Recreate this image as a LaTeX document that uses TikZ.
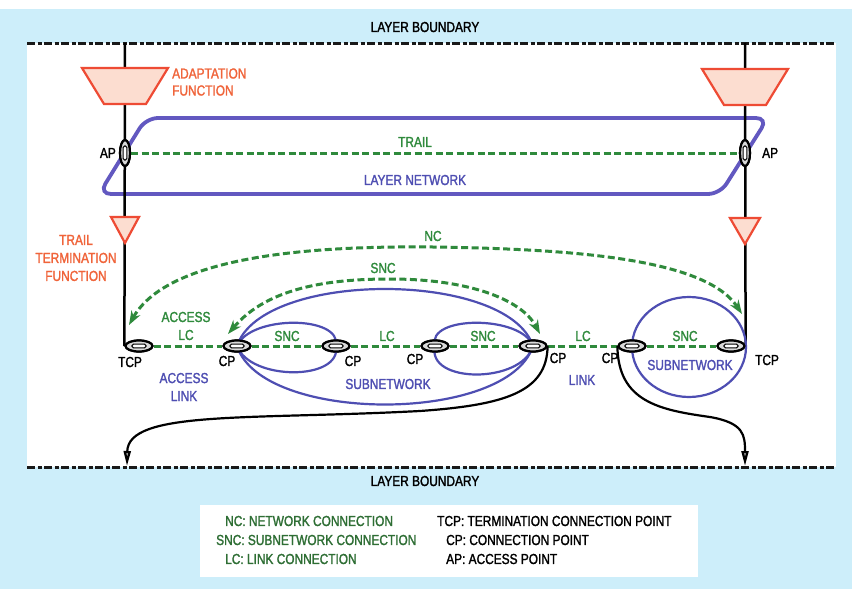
\documentclass[tikz,border=0pt]{standalone}
\usepackage{fontspec}
\setmainfont[FakeStretch=0.82, FakeBold=1.6]{Liberation Sans}
\usetikzlibrary{arrows.meta,shapes.geometric,calc}
\definecolor{bgblue}{HTML}{CDEEFA}
\definecolor{lgreen}{HTML}{2F8A3C}
\definecolor{lorange}{HTML}{F0643A}
\definecolor{tfill}{HTML}{FCDDD0}
\definecolor{fstroke}{HTML}{EE4B34}
\definecolor{lblue}{HTML}{4E4EB2}
\definecolor{netblue}{HTML}{6258C0}
\definecolor{legreen}{HTML}{2E6E34}
\begin{document}
\begin{tikzpicture}[x=1pt,y=-1pt,
  every node/.style={font=\fontsize{14.5}{17}\selectfont, inner sep=0pt},
  boundary/.style={line width=3pt, color=black!90, dash pattern=on 8pt off 2.5pt on 4pt off 2.5pt},
  gdash/.style={line width=3pt, color=lgreen, dash pattern=on 7pt off 3.5pt},
  garrow/.style={gdash, {Stealth[length=14pt,width=10pt]}-{Stealth[length=14pt,width=10pt]}},
  vline/.style={line width=2.5pt, black},
  func/.style={draw=fstroke, fill=tfill, line width=2.2pt, line join=miter},
  subnet/.style={draw=lblue, line width=2.2pt},
  layernet/.style={draw=netblue, line width=3.8pt, rounded corners=12pt},
  blackarr/.style={line width=2.2pt, black, -{Triangle[length=15pt,width=7pt,fill=gray!60]}},
  cpt/.style={ellipse, draw=black, line width=2.2pt, fill=black!15, minimum width=27pt, minimum height=11pt, inner sep=0pt,
    path picture={\draw[line width=1.1pt, fill=white, rounded corners=1.5pt]
      ($(path picture bounding box.center)+(-7pt,-1.9pt)$) rectangle ($(path picture bounding box.center)+(7pt,1.9pt)$);}},
  apt/.style={ellipse, draw=black, line width=2.2pt, fill=black!15, minimum width=10pt, minimum height=26pt, inner sep=0pt,
    path picture={\draw[line width=1.1pt, fill=white, rounded corners=1.5pt]
      ($(path picture bounding box.center)+(-1.9pt,-7pt)$) rectangle ($(path picture bounding box.center)+(1.9pt,7pt)$);}},
  orangetxt/.style={text=lorange, align=center},
  greentxt/.style={text=lgreen},
  bluetxt/.style={text=lblue, align=center},
  blacktxt/.style={text=black},
]
\useasboundingbox (0,0) rectangle (852,589);
% backgrounds
\fill[white] (0,0) rectangle (852,589);
\fill[bgblue] (0,9) rectangle (852,589);
\fill[white] (27,43) rectangle (836,467);
% boundaries
\coordinate (bTL) at (27,43);
\coordinate (bTR) at (836,43);
\coordinate (bBL) at (27,467);
\coordinate (bBR) at (836,467);
\draw[boundary] (bTL) -- (bTR);
\draw[boundary] (bBL) -- (bBR);
\node[blacktxt] (lbtop) at (425,27) {LAYER BOUNDARY};
\node[blacktxt] (lbbot) at (425,481) {LAYER BOUNDARY};
% layer network
\draw[layernet] (146,118) -- (768,118) -- (720,194) -- (99,194) -- cycle;
% CP / TCP nodes positions
\node[cpt] (tcpL) at (139,346) {};
\node[cpt] (cp1) at (237,346) {};
\node[cpt] (cp2) at (336,346) {};
\node[cpt] (cp3) at (435,346) {};
\node[cpt] (cp4) at (533,346) {};
\node[cpt] (cp5) at (632,346) {};
\node[cpt] (tcpR) at (731,346) {};
% vertical lines
\coordinate (tL) at (125,43);
\coordinate (tR) at (745,43);
\draw[vline] (tL) -- (tcpL.west);
\draw[vline] (tR) -- (tcpR.east);
% adaptation functions
\draw[func] (82,68) -- (168,68) -- (146,104) -- (104,104) -- cycle;
\draw[func] (702,69) -- (788,69) -- (766,105) -- (724,105) -- cycle;
% trail termination functions
\draw[func] (111,217) -- (139,217) -- (125,243) -- cycle;
\draw[func] (730,218) -- (760,218) -- (745,244) -- cycle;
% trail
\node[apt] (apL) at (125,153) {};
\node[apt] (apR) at (745,153) {};
\draw[gdash] (apL) -- (apR);
\node[apt] at (125,153) {};
\node[apt] at (745,153) {};
% subnetworks
\draw[subnet] (cp1.center) .. controls (262,270) and (508,270) .. (cp4.center)
  .. controls (508,424) and (262,424) .. (cp1.center);
\draw[subnet] (cp1.center) .. controls (250,315) and (342,315) .. (cp2.center)
  .. controls (342,381) and (250,381) .. (cp1.center);
\draw[subnet] (cp3.center) .. controls (426,315) and (522,315) .. (cp4.center)
  .. controls (522,384) and (426,384) .. (cp3.center);
\draw[subnet] (689,347) ellipse [x radius=57, y radius=50];
% connection line
\draw[gdash] (tcpL) -- (cp1);
\draw[gdash] (cp1) -- (cp2);
\draw[gdash] (cp2) -- (cp3);
\draw[gdash] (cp3) -- (cp4);
\draw[gdash] (cp4) -- (cp5);
\draw[gdash] (cp5) -- (tcpR);
% redraw CP nodes on top
\node[cpt] at (139,346) {};
\node[cpt] at (237,346) {};
\node[cpt] at (336,346) {};
\node[cpt] at (435,346) {};
\node[cpt] at (533,346) {};
\node[cpt] at (632,346) {};
\node[cpt] at (731,346) {};
% NC and SNC arrows
\coordinate (ncL) at (129,325);
\coordinate (ncR) at (742,314);
\draw[garrow] (ncL) .. controls (170,252) and (330,246) .. (433,247)
  .. controls (570,249) and (705,258) .. (ncR);
\coordinate (sncL) at (228,334);
\coordinate (sncR) at (540,334);
\draw[garrow] (sncL) .. controls (268,287) and (330,279) .. (390,279)
  .. controls (470,279) and (522,300) .. (sncR);
% black curves
\coordinate (downL) at (127,466);
\coordinate (downR) at (745,466);
\draw[blackarr] (cp4.east) .. controls (547,392) and (505,405) .. (420,411)
  .. controls (250,420) and (128,410) .. (downL);
\draw[blackarr] (cp5.west) .. controls (618,402) and (660,410) .. (710,417)
  .. controls (744,423) and (745,435) .. (downR);
% labels
\node[orangetxt, align=left, anchor=west] (adapt) at (172,82) {ADAPTATION\\FUNCTION};
\node[blacktxt, anchor=east] (apLl) at (116,153) {AP};
\node[blacktxt, anchor=west] (apRl) at (762,153) {AP};
\node[greentxt] (trail) at (415,142) {TRAIL};
\node[bluetxt] (lnet) at (415,180) {LAYER NETWORK};
\node[orangetxt, font=\fontsize{14.5}{18}\selectfont] (ttf) at (76,258) {TRAIL\\TERMINATION\\FUNCTION};
\node[greentxt] (nc) at (433,236) {NC};
\node[greentxt] (snc0) at (383,268) {SNC};
\node[greentxt, align=center, font=\fontsize{14.5}{18}\selectfont] (alc) at (186,326) {ACCESS\\LC};
\node[greentxt] (snc1) at (287,336) {SNC};
\node[greentxt] (lc1) at (387,336) {LC};
\node[greentxt] (snc2) at (483,336) {SNC};
\node[greentxt] (lc2) at (583,336) {LC};
\node[greentxt] (snc3) at (685,336) {SNC};
\node[blacktxt] (l1) at (130,362) {TCP};
\node[blacktxt] (l2) at (227,361) {CP};
\node[blacktxt] (l3) at (353,361) {CP};
\node[blacktxt] (l4) at (415,359) {CP};
\node[blacktxt] (l5) at (558,358) {CP};
\node[blacktxt] (l6) at (610,358) {CP};
\node[blacktxt] (l7) at (767,360) {TCP};
\node[bluetxt, font=\fontsize{14.5}{18}\selectfont] (alink) at (184,387) {ACCESS\\LINK};
\node[bluetxt] (sub1) at (388,384) {SUBNETWORK};
\node[bluetxt] (link) at (582,380) {LINK};
\node[bluetxt] (sub2) at (690,365) {SUBNETWORK};
% legend
\fill[white] (200,505) rectangle (698,577);
\node[text=legreen, anchor=west] (lg1) at (225,521) {NC: NETWORK CONNECTION};
\node[text=legreen, anchor=west] (lg2) at (216,540) {SNC: SUBNETWORK CONNECTION};
\node[text=legreen, anchor=west] (lg3) at (225,559) {LC: LINK CONNECTION};
\node[blacktxt, anchor=west] (lg4) at (437,521) {TCP: TERMINATION CONNECTION POINT};
\node[blacktxt, anchor=west] (lg5) at (446,540) {CP: CONNECTION POINT};
\node[blacktxt, anchor=west] (lg6) at (446,559) {AP: ACCESS POINT};
\end{tikzpicture}
\end{document}
